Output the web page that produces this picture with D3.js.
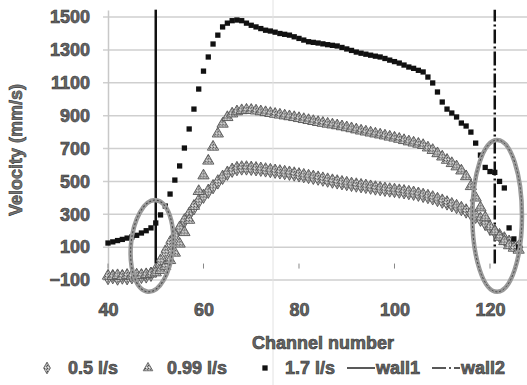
<!DOCTYPE html>
<html>
<head>
<meta charset="utf-8">
<script src="https://cdn.jsdelivr.net/npm/d3@7"></script>
<style>
  body { margin: 0; background: #fff; }
  svg text { font-family: "Liberation Sans", Arial, sans-serif; font-weight: bold; }
</style>
</head>
<body>
<figure id="chart" style="margin:0"></figure>
<script>
// channel numbers 40..126, one reading per channel
const channels = d3.range(40, 127);

const flow05 = [-85, -80, -88, -82, -86, -80, -84, -78, -75, -65,
  -40, 15, 70, 125, 170, 215, 260, 300, 340, 380,
  410, 440, 468, 497, 525, 550, 568, 578, 582, 582,
  580, 577, 574, 570, 566, 562, 558, 554, 550, 545,
  540, 535, 530, 525, 520, 514, 508, 502, 497, 492,
  487, 482, 478, 474, 470, 465, 460, 456, 452, 448,
  445, 441, 437, 432, 428, 422, 415, 408, 400, 390,
  380, 369, 358, 347, 335, 320, 305, 288, 270, 245,
  215, 195, 170, 150, 130, 110, 100];

const flow099 = [-75, -78, -72, -76, -70, -74, -68, -70, -66, -62,
  -55, -40, -15, 20, 65, 120, 190, 265, 350, 440,
  535, 625, 710, 790, 850, 890, 912, 925, 932, 935,
  934, 930, 925, 920, 915, 910, 905, 900, 895, 890,
  884, 878, 872, 866, 860, 855, 850, 845, 840, 834,
  828, 822, 815, 808, 802, 796, 790, 784, 778, 771,
  765, 758, 750, 742, 735, 728, 720, 705, 690, 670,
  650, 630, 610, 590, 565, 530, 470, 400, 340, 280,
  225, 195, 162, 135, 110, 95, 83];

const flow17 = [125, 132, 140, 147, 155, 162, 172, 186, 200, 217,
  247, 296, 350, 423, 508, 594, 703, 819, 940, 1062,
  1171, 1257, 1336, 1390, 1440, 1463, 1478, 1482, 1478, 1463,
  1450, 1440, 1430, 1420, 1415, 1408, 1400, 1395, 1390, 1380,
  1370, 1360, 1350, 1346, 1342, 1337, 1332, 1328, 1324, 1315,
  1306, 1297, 1287, 1280, 1274, 1268, 1262, 1257, 1248, 1238,
  1229, 1220, 1208, 1196, 1188, 1176, 1166, 1135, 1099, 1044,
  983, 940, 916, 892, 855, 837, 800, 733, 660, 585,
  560, 555, 500, 460, 217, 150, 100];

// wall positions (channel) and their vertical extent (mm/s)
const wall1 = {channel: 50, from: 0, to: 1545};
const wall2 = {channel: 121, from: 0, to: 1545};

// annotation ellipses: centre channel/velocity, half widths, tilt
const ellipses = [
  {c: 49.2, v: 107, rc: 4.4, rv: 280, tilt: 5},
  {c: 121.5, v: 290, rc: 5.2, rv: 462, tilt: 0}
];

const xTicks = [40, 60, 80, 100, 120];
const yTicks = [-100, 100, 300, 500, 700, 900, 1100, 1300, 1500];

const legendItems = ["0.5 l/s", "0.99 l/s", "1.7 l/s", "wall1", "wall2"];

const width = 527, height = 385;

const svg = d3.select("#chart").append("svg")
  .attr("width", width)
  .attr("height", height);

const defs = svg.append("defs");
const pat = defs.append("pattern")
  .attr("id", "speck")
  .attr("width", 3).attr("height", 3)
  .attr("patternUnits", "userSpaceOnUse");
pat.append("rect").attr("width", 3).attr("height", 3).attr("fill", "#b0b0b0");
pat.append("rect").attr("x", 0).attr("y", 0).attr("width", 1).attr("height", 1).attr("fill", "#4a4a4a");
pat.append("rect").attr("x", 2).attr("y", 1).attr("width", 1).attr("height", 1).attr("fill", "#6a6a6a");
pat.append("rect").attr("x", 1).attr("y", 2).attr("width", 1).attr("height", 1).attr("fill", "#eee");

const x = d3.scaleLinear().domain([40, 127.75]).range([108, 527]);
const y = d3.scaleLinear().domain([-100, 1543]).range([280, 10]);

// horizontal gridlines
svg.append("g")
  .selectAll("line")
  .data(yTicks)
  .enter()
  .append("line")
  .attr("x1", 103).attr("x2", width)
  .attr("y1", d => y(d)).attr("y2", d => y(d))
  .attr("stroke", "#cfcfcf")
  .attr("stroke-width", 1.5);

// faint scan fold line
svg.append("line")
  .attr("x1", 273).attr("x2", 273).attr("y1", 0).attr("y2", height)
  .attr("stroke", "#e2e2e2").attr("stroke-width", 1);

// y axis
const yAxis = svg.append("g")
  .attr("transform", "translate(108,0)")
  .call(d3.axisLeft(y).tickValues(yTicks).tickSize(0).tickPadding(18).tickFormat(d3.format("d")));
yAxis.select(".domain").attr("stroke", "#c8c8c8").attr("stroke-width", 1.5);
yAxis.selectAll("text")
  .attr("font-size", 18)
  .attr("fill", "#666").attr("stroke", "#333").attr("stroke-width", 0.6);

// x axis labels (placed low) and ticks at zero line
const xAxis = svg.append("g")
  .attr("transform", "translate(0,300)")
  .call(d3.axisBottom(x).tickValues(xTicks).tickSize(0).tickPadding(3));
xAxis.select(".domain").remove();
xAxis.selectAll("text")
  .attr("font-size", 18)
  .attr("fill", "#666").attr("stroke", "#333").attr("stroke-width", 0.6);

svg.append("g")
  .selectAll("line")
  .data(xTicks)
  .enter()
  .append("line")
  .attr("x1", d => x(d)).attr("x2", d => x(d))
  .attr("y1", y(0)).attr("y2", y(0) + 5)
  .attr("stroke", "#888").attr("stroke-width", 1);

// axis titles
svg.append("text")
  .attr("x", 323).attr("y", 349)
  .attr("text-anchor", "middle")
  .attr("font-size", 18)
  .attr("fill", "#666").attr("stroke", "#333").attr("stroke-width", 0.6)
  .text("Channel number");

svg.append("text")
  .attr("transform", "translate(22,150) rotate(-90)")
  .attr("text-anchor", "middle")
  .attr("font-size", 18)
  .attr("fill", "#777").attr("stroke", "#333").attr("stroke-width", 0.6)
  .text("Velocity (mm/s)");

// wall lines
function drawWall(w, dash) {
  svg.append("line")
    .attr("x1", x(w.channel)).attr("x2", x(w.channel))
    .attr("y1", y(w.from)).attr("y2", y(w.to))
    .attr("stroke", "#111")
    .attr("stroke-width", 2.5)
    .attr("stroke-dasharray", dash);
}
drawWall(wall1, null);
drawWall(wall2, "14,3,2,3");

const rows = channels.map((c, i) => ({c: c, a: flow05[i], b: flow099[i], k: flow17[i]}));

const diamond = d3.symbol().type(d3.symbolDiamond).size(60);
const triangle = d3.symbol().type(d3.symbolTriangle).size(55);
const square = d3.symbol().type(d3.symbolSquare).size(28);

// 0.5 l/s
svg.append("g").selectAll("path")
  .data(rows).enter().append("path")
  .attr("d", diamond)
  .attr("transform", d => "translate(" + x(d.c) + "," + y(d.a) + ")")
  .attr("fill", "url(#speck)").attr("stroke", "#555").attr("stroke-width", 0.9);

// 0.99 l/s
svg.append("g").selectAll("path")
  .data(rows).enter().append("path")
  .attr("d", triangle)
  .attr("transform", d => "translate(" + x(d.c) + "," + y(d.b) + ")")
  .attr("fill", "url(#speck)").attr("stroke", "#555").attr("stroke-width", 0.9);

// 1.7 l/s
svg.append("g").selectAll("path")
  .data(rows).enter().append("path")
  .attr("d", square)
  .attr("transform", d => "translate(" + x(d.c) + "," + y(d.k) + ")")
  .attr("fill", "#111");

// ellipses
ellipses.forEach(e => {
  const cx = x(e.c), cy = y(e.v);
  const rx = x(e.c + e.rc) - cx, ry = y(e.v - e.rv) - cy;
  svg.append("ellipse")
    .attr("cx", cx).attr("cy", cy).attr("rx", rx).attr("ry", ry)
    .attr("transform", "rotate(" + e.tilt + "," + cx + "," + cy + ")")
    .attr("fill", "none").attr("stroke", "#9a9a9a").attr("stroke-width", 4.5);
  svg.append("ellipse")
    .attr("cx", cx).attr("cy", cy).attr("rx", rx).attr("ry", ry)
    .attr("transform", "rotate(" + e.tilt + "," + cx + "," + cy + ")")
    .attr("fill", "none").attr("stroke", "#444").attr("stroke-width", 1)
    .attr("stroke-dasharray", "2,2");
});

// legend
const ly = 368;
const legend = svg.append("g");
legend.append("path").attr("d", d3.symbol().type(d3.symbolDiamond).size(40)).attr("transform", "translate(47," + ly + ")")
  .attr("fill", "url(#speck)").attr("stroke", "#555").attr("stroke-width", 0.8);
legend.append("path").attr("d", d3.symbol().type(d3.symbolTriangle).size(40)).attr("transform", "translate(148," + ly + ")")
  .attr("fill", "url(#speck)").attr("stroke", "#555").attr("stroke-width", 0.8);
legend.append("path").attr("d", square).attr("transform", "translate(265," + ly + ")")
  .attr("fill", "#111");
legend.append("line").attr("x1", 347).attr("x2", 375).attr("y1", ly).attr("y2", ly)
  .attr("stroke", "#222").attr("stroke-width", 1.5);
legend.append("line").attr("x1", 432).attr("x2", 460).attr("y1", ly).attr("y2", ly)
  .attr("stroke", "#222").attr("stroke-width", 1.5).attr("stroke-dasharray", "14,3,2,3");

const legendX = [68, 167, 285, 376, 461];
legend.selectAll("text")
  .data(legendItems).enter().append("text")
  .attr("x", (d, i) => legendX[i]).attr("y", ly + 6)
  .attr("font-size", 18)
  .attr("fill", "#666").attr("stroke", "#333").attr("stroke-width", 0.6)
  .text(d => d);
</script>
</body>
</html>
